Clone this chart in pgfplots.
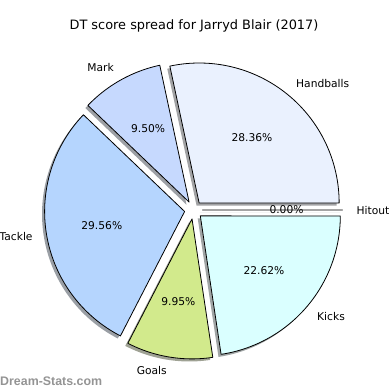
\documentclass[border=0pt]{standalone}
\usepackage{pgfplots}
\pgfplotsset{compat=1.18}
\usepackage{pgfplotstable}
\usepackage{fontspec}
\setmainfont{DejaVu Sans}
\newfontfamily\wmfam{Liberation Sans}

\definecolor{cHandballs}{HTML}{EAF1FE}
\definecolor{cMark}{HTML}{C6D9FE}
\definecolor{cTackle}{HTML}{B5D5FE}
\definecolor{cGoals}{HTML}{D2EA8C}
\definecolor{cKicks}{HTML}{DAFFFF}
\definecolor{cHitout}{HTML}{F0F0F0}

\pgfplotstableread{
name value
Handballs 28.36
Mark 9.50
Tackle 29.56
Goals 9.95
Kicks 22.62
Hitout 0.00
}\piedata

\def\cx{193.5}\def\cy{210}\def\R{140}\def\D{9}\def\sh{2.6}
\newcommand\lblfont{\fontsize{10.7bp}{13bp}\selectfont}
\newcommand\titlefont{\fontsize{12.9bp}{15bp}\selectfont}
\newcommand\wmfont{\wmfam\bfseries\fontsize{12.4bp}{14bp}\selectfont}

\newcommand\pieangles[1]{%
  \pgfplotstablegetelem{#1}{name}\of\piedata \edef\nm{\pgfplotsretval}%
  \pgfplotstablegetelem{#1}{value}\of\piedata \edef\val{\pgfplotsretval}%
  \pgfmathsetmacro\aS{\cum}%
  \pgfmathsetmacro\aE{\cum+3.6*\val}%
  \xdef\cum{\aE}%
  \pgfmathsetmacro\aEd{max(\aE,\aS+0.05)}%
  \pgfmathsetmacro\aM{(\aS+\aE)/2}%
}

\newcommand\pieshadow[1]{%
  \pieangles{#1}%
  \pgfmathsetmacro\ox{\cx+\D*cos(\aM)-\sh}%
  \pgfmathsetmacro\oy{\cy-\D*sin(\aM)+\sh}%
  \edef\tmp{\noexpand\addplot[fill=c\nm!30!black, fill opacity=0.5, draw=none, domain=\aS:\aEd, samples=90, variable=\noexpand\t] ({\ox+\R*cos(\noexpand\t)},{\oy-\R*sin(\noexpand\t)}) -- (axis cs:\ox,\oy) -- cycle;}%
  \tmp
}

\newcommand\piewedge[1]{%
  \pieangles{#1}%
  \pgfmathsetmacro\ox{\cx+\D*cos(\aM)}%
  \pgfmathsetmacro\oy{\cy-\D*sin(\aM)}%
  \pgfmathsetmacro\lx{\ox+1.1*\R*cos(\aM)}%
  \pgfmathsetmacro\ly{\oy-1.1*\R*sin(\aM)}%
  \pgfmathsetmacro\px{\ox+0.6*\R*cos(\aM)}%
  \pgfmathsetmacro\py{\oy-0.6*\R*sin(\aM)}%
  \pgfmathtruncatemacro\side{cos(\aM)>0}%
  \ifnum\side=1 \def\anc{west}\else\def\anc{east}\fi
  \edef\tmp{\noexpand\addplot[fill=c\nm, draw=black, line width=0.8bp, line join=round, domain=\aS:\aEd, samples=90, variable=\noexpand\t] ({\ox+\R*cos(\noexpand\t)},{\oy-\R*sin(\noexpand\t)}) -- (axis cs:\ox,\oy) -- cycle;
    \noexpand\node[font=\noexpand\lblfont, anchor=\anc, inner sep=0pt] at (axis cs:\lx,\ly) {\nm};
    \noexpand\node[font=\noexpand\lblfont, inner sep=0pt] at (axis cs:\px,\py) {\val\noexpand\%};}%
  \tmp
}

\begin{document}
\begin{tikzpicture}
\begin{axis}[width=390bp, height=390bp, scale only axis,
  xmin=0, xmax=390, ymin=0, ymax=390, y dir=reverse,
  hide axis, clip=false]
\xdef\cum{0}
\pgfplotsinvokeforeach{0,...,5}{\pieshadow{#1}}
\xdef\cum{0}
\pgfplotsinvokeforeach{0,...,5}{\piewedge{#1}}
\node[font=\titlefont, inner sep=0pt] at (axis cs:194,26) {DT score spread for Jarryd Blair (2017)};
\node[font=\wmfont, text=black!42, anchor=base west, inner sep=0pt] at (axis cs:0,385) {Dream-Stats.com};
\end{axis}
\pgfresetboundingbox
\useasboundingbox (current axis.south west) rectangle (current axis.north east);
\end{tikzpicture}
\end{document}
